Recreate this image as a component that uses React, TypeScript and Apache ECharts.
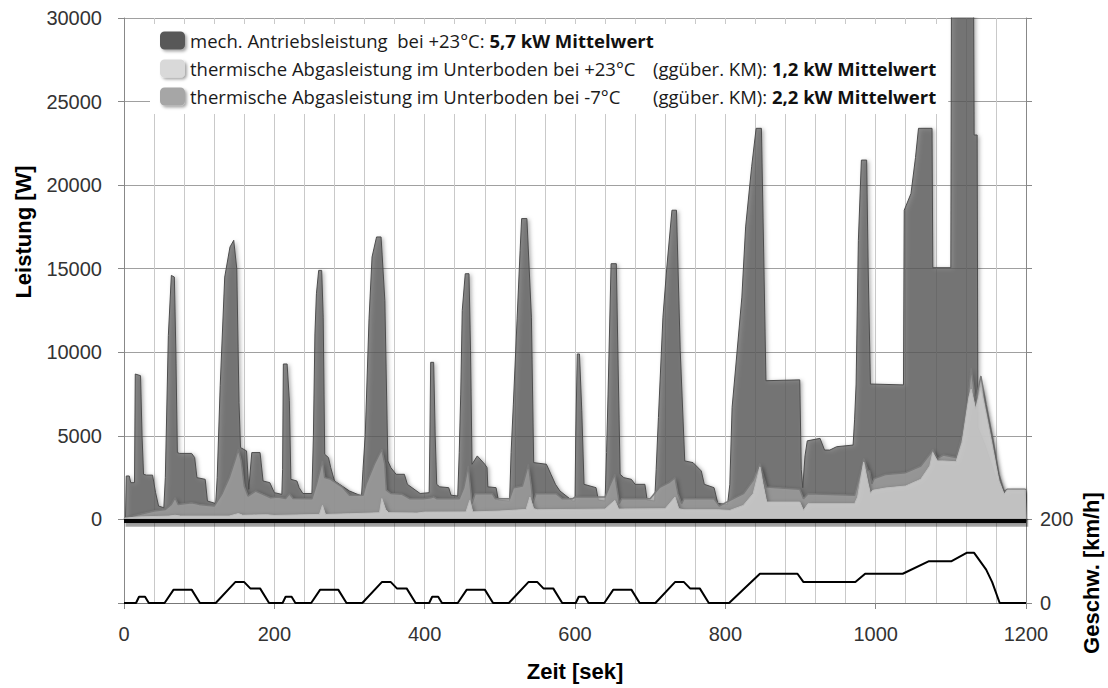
import React, { useEffect, useRef } from "react";
import * as echarts from "echarts";

// ---- data (time in s, power in W, speed in km/h) ----
const mechPower: number[][] = [
  [0, 0], [2, 0], [3, 2600], [7, 2600], [9, 2200], [14, 2200], [15, 8700], [22, 8600], [24, 5000], [26, 2700], [30, 2650], [38, 2650], [42, 1600], [46, 800], [53, 700],
  [55, 2500], [59, 11000], [63, 14600], [67, 14500], [69, 10000], [71, 4000], [74, 3950], [90, 3950], [94, 3700], [97, 2500], [108, 2400], [111, 1100], [122, 950],
  [124, 2500], [128, 8000], [134, 14500], [141, 16300], [146, 16700], [150, 15000], [153, 7000], [155, 4300], [163, 4100], [166, 1800], [170, 4000], [181, 4000], [185, 2300], [194, 2200],
  [200, 1600], [210, 1500], [211, 3000], [212, 9300], [217, 9300], [220, 7100], [222, 2400], [230, 2300], [233, 1900], [238, 1550], [250, 1550],
  [252, 5000], [254, 11100], [256, 13500], [259, 14900], [263, 14900], [265, 12100], [267, 3900], [272, 3700], [275, 3100], [280, 2300], [290, 2000], [300, 1700], [316, 1400],
  [318, 3000], [321, 5100], [326, 12000], [330, 15700], [336, 16900], [342, 16900], [347, 13100], [351, 3500], [355, 3100], [362, 2700], [373, 2700], [377, 2100], [394, 1550],
  [406, 1600], [407, 5000], [408, 9400], [412, 9400], [414, 5000], [416, 2100], [420, 1950], [432, 1900], [435, 1450], [444, 1400],
  [446, 4000], [448, 7500], [450, 12500], [454, 14700], [459, 14700], [461, 10100], [463, 3300], [470, 3800], [480, 3300], [483, 3100], [484, 1950], [495, 1900], [498, 1150], [513, 1100],
  [515, 4000], [518, 6900], [523, 12000], [527, 16100], [529, 18000], [536, 18000], [542, 12100], [545, 3400], [562, 3300], [568, 2700], [574, 2100], [580, 1700], [597, 1100],
  [600, 1100], [601, 5000], [603, 9900], [606, 9900], [609, 6500], [612, 2100], [620, 2000], [628, 1900], [631, 1150], [640, 1100],
  [642, 4000], [644, 7500], [648, 15300], [655, 15300], [657, 10100], [660, 2700], [665, 2500], [675, 2400], [680, 2100], [693, 2100], [696, 1150], [706, 1100],
  [708, 3000], [711, 6100], [717, 12100], [722, 15000], [729, 18500], [735, 18500], [740, 10100], [746, 3500], [757, 3400], [768, 2900], [772, 2100], [785, 1900], [790, 950], [803, 900],
  [806, 2100], [809, 6700], [813, 8700], [822, 13300], [827, 17500], [835, 21100], [841, 23400], [848, 23400], [851, 16000], [854, 8300], [899, 8350],
  [901, 3000], [903, 1900], [906, 3800], [909, 4700], [926, 4850], [932, 4150], [939, 4150], [948, 4350], [970, 4450],
  [972, 6000], [974, 8100], [977, 16700], [981, 21500], [988, 21500], [990, 15100], [993, 8100], [1037, 8050],
  [1038, 18500], [1047, 19500], [1053, 21650], [1057, 23400], [1075, 23400], [1076, 15060], [1100, 15060], [1101, 34000], [1130, 34000], [1131, 23000], [1135, 23000],
  [1136, 5500], [1145, 4500], [1160, 2500], [1168, 1700], [1199, 1700], [1200, 0],
];

const thermalMinus7: number[][] = [
  [0, 0], [2, 100], [20, 300], [40, 500], [55, 600], [63, 900], [68, 1300], [72, 900], [90, 1000], [100, 900], [120, 800],
  [130, 1500], [140, 2500], [148, 3600], [152, 4200], [156, 3500], [160, 2000], [165, 1400], [175, 1700], [185, 1500], [195, 1300],
  [205, 1340], [215, 1250], [220, 1540], [225, 1250], [250, 1240], [256, 2100], [264, 3500], [267, 2500], [275, 2400], [290, 1950], [300, 1450], [318, 1450],
  [322, 2100], [333, 3300], [343, 4200], [347, 3300], [349, 1750], [355, 1550], [370, 1500], [380, 1240], [398, 1240],
  [408, 1300], [412, 1350], [416, 1240], [446, 1240], [452, 1900], [458, 3200], [461, 1900], [463, 950], [467, 1540], [490, 1540], [494, 1240], [513, 1240],
  [518, 1900], [530, 2000], [538, 3300], [542, 1950], [544, 950], [548, 1540], [575, 1540], [583, 1240], [597, 1240],
  [600, 1340], [640, 1340], [646, 2000], [653, 2700], [657, 1540], [659, 950], [662, 1240], [700, 1240],
  [712, 1900], [725, 2200], [733, 2500], [737, 1540], [742, 950], [745, 1240], [785, 1240], [792, 800],
  [806, 1140], [824, 1540], [837, 2340], [846, 3340], [850, 2740], [855, 1940], [899, 1800], [904, 1240], [910, 1540], [972, 1440],
  [976, 2140], [984, 3640], [990, 2940], [992, 2900], [995, 2140], [998, 2440], [1013, 2690], [1040, 2800], [1060, 3200], [1072, 3900],
  [1076, 4190], [1082, 3650], [1090, 3850], [1107, 3700], [1115, 5000], [1122, 7000], [1127, 9050], [1133, 7080], [1140, 8580], [1147, 6850],
  [1156, 4770], [1164, 2690], [1171, 1650], [1175, 1800], [1199, 1800], [1200, 0],
];

const thermal23: number[][] = [
  [0, 0], [2, 80], [20, 150], [60, 200], [68, 250], [75, 200], [140, 200], [148, 300], [152, 350], [158, 250], [190, 280], [200, 240],
  [260, 300], [264, 840], [268, 300], [300, 340], [340, 400], [343, 1250], [348, 600], [352, 400], [390, 380], [400, 440],
  [455, 450], [460, 1140], [464, 450], [500, 500], [535, 600], [540, 1340], [545, 640], [550, 580], [600, 600], [640, 620],
  [653, 1140], [658, 620], [720, 640], [733, 1340], [738, 640], [745, 580], [790, 580],
  [806, 540], [824, 840], [837, 1540], [846, 3140], [850, 2140], [855, 1040], [899, 1040], [904, 540], [910, 940], [972, 940],
  [976, 1340], [984, 3440], [990, 2140], [993, 1540], [996, 1740], [1013, 1880], [1040, 2000], [1060, 2400], [1072, 3200],
  [1076, 4000], [1082, 3500], [1090, 3500], [1107, 3450], [1115, 4600], [1124, 7310], [1127, 7800], [1133, 6600], [1140, 7900], [1147, 6300],
  [1156, 4200], [1164, 2300], [1171, 1500], [1175, 1760], [1199, 1760], [1200, 0],
];

const speedKmh: number[][] = [
  [0, 0], [16, 0], [20, 15], [28, 15], [33, 0], [54, 0], [66, 32], [90, 32], [101, 0], [122, 0], [148, 50], [160, 50], [168, 35], [181, 35], [193, 0],
  [211, 0], [215, 15], [223, 15], [228, 0], [249, 0], [261, 32], [285, 32], [296, 0], [317, 0], [343, 50], [355, 50], [363, 35], [376, 35], [388, 0],
  [406, 0], [410, 15], [418, 15], [423, 0], [444, 0], [456, 32], [480, 32], [491, 0], [512, 0], [538, 50], [550, 50], [558, 35], [571, 35], [583, 0],
  [601, 0], [605, 15], [613, 15], [618, 0], [639, 0], [651, 32], [675, 32], [686, 0], [707, 0], [733, 50], [745, 50], [753, 35], [766, 35], [778, 0],
  [805, 0], [846, 70], [896, 70], [904, 50], [973, 50], [986, 70], [1036, 70], [1071, 100], [1101, 100], [1121, 120], [1131, 120], [1147, 80], [1155, 50], [1165, 0], [1200, 0],
];

// thick base band drawn just below the zero line (W)
const baseBand = { level: -90, shadeLevel: -200 };

const seriesNames = [
  "mech. Antriebsleistung bei +23°C",
  "thermische Abgasleistung im Unterboden bei +23°C",
  "thermische Abgasleistung im Unterboden bei -7°C",
];
const legendMain = [
  "mech. Antriebsleistung  bei +23°C: ",
  "thermische Abgasleistung im Unterboden bei +23°C",
  "thermische Abgasleistung im Unterboden bei -7°C",
];
const legendKM = ["", "(ggüber. KM): ", "(ggüber. KM): "];
const legendMean = ["5,7 kW Mittelwert", "1,2 kW Mittelwert", "2,2 kW Mittelwert"];

const powerTicks = { min: -5000, max: 30000, step: 5000 };
const speedTicks = { min: 0, max: 1400, step: 200, shown: [0, 200] };
const timeTicks = { min: 0, max: 1200, step: 200 };

const AXIS_FONT = '"Liberation Sans", Arial, sans-serif';
const LEGEND_FONT = '"Open Sans", Lato, sans-serif';
const LEGEND_SIZE = 18.5;

export default function App() {
  const ref = useRef<HTMLDivElement>(null);
  useEffect(() => {
    document.body.style.margin = "0";
    const chart = echarts.init(ref.current!, undefined, { renderer: "svg" });
    const shadow = { shadowBlur: 4, shadowColor: "rgba(0,0,0,0.5)", shadowOffsetX: 2, shadowOffsetY: 1 };
    chart.setOption({
      animation: false,
      backgroundColor: "#fff",
      grid: { left: 124, right: 82, top: 18, bottom: 85 },
      legend: {
        orient: "vertical",
        left: 150,
        top: 24,
        padding: [7, 12, 8, 10],
        backgroundColor: "#fff",
        itemWidth: 25,
        itemHeight: 18,
        itemGap: 9,
        icon: "roundRect",
        data: seriesNames,
        itemStyle: { shadowBlur: 3, shadowColor: "rgba(0,0,0,0.35)", shadowOffsetX: 2, shadowOffsetY: 2 },
        formatter: (name: string) => {
          const i = seriesNames.indexOf(name);
          if (i === 0) return `{n|${legendMain[0]}}{b|${legendMean[0]}}`;
          return `{a|${legendMain[i]}}{n|${legendKM[i]}}{b|${legendMean[i]}}`;
        },
        textStyle: {
          fontFamily: LEGEND_FONT,
          fontSize: LEGEND_SIZE,
          color: "#1a1a1a",
          rich: {
            n: { fontFamily: LEGEND_FONT, fontSize: LEGEND_SIZE, color: "#1a1a1a" },
            a: { fontFamily: LEGEND_FONT, fontSize: LEGEND_SIZE, color: "#1a1a1a", width: 463 },
            b: { fontFamily: LEGEND_FONT, fontSize: LEGEND_SIZE, color: "#111", fontWeight: "bold" },
          },
        },
      },
      xAxis: {
        type: "value",
        min: timeTicks.min,
        max: timeTicks.max,
        interval: timeTicks.step,
        name: "Zeit [sek]",
        nameLocation: "middle",
        nameGap: 57,
        nameTextStyle: { fontFamily: AXIS_FONT, fontWeight: "bold", fontSize: 22, color: "#000" },
        axisLine: { onZero: false, lineStyle: { color: "#777", width: 1 } },
        axisTick: { show: true, length: 6, lineStyle: { color: "#888" } },
        axisLabel: { fontFamily: AXIS_FONT, fontSize: 20, color: "#333", margin: 21, formatter: (v: number) => String(v) },
        splitLine: { show: true, lineStyle: { color: "#c9c9c9", width: 1 } },
        minorTick: { show: false, splitNumber: 5 },
        minorSplitLine: { show: true, lineStyle: { color: "#c9c9c9", width: 1 } },
      },
      yAxis: [
        {
          type: "value",
          min: powerTicks.min,
          max: powerTicks.max,
          interval: powerTicks.step,
          axisLine: { show: true, lineStyle: { color: "#888" } },
          axisTick: { show: true, length: 6, lineStyle: { color: "#888" } },
          axisLabel: {
            fontFamily: AXIS_FONT,
            fontSize: 20,
            color: "#333",
            margin: 22,
            formatter: (v: number) => (v < 0 ? "" : String(v)),
          },
          splitLine: { show: true, lineStyle: { color: "#a0a0a0", width: 1 } },
        },
        {
          type: "value",
          position: "right",
          min: speedTicks.min,
          max: speedTicks.max,
          interval: speedTicks.step,
          axisLine: { show: true, lineStyle: { color: "#888" } },
          axisTick: { show: true, length: 6, lineStyle: { color: "#888" } },
          axisLabel: {
            fontFamily: AXIS_FONT,
            fontSize: 20,
            color: "#333",
            margin: 14,
            formatter: (v: number) => (speedTicks.shown.includes(v) ? String(v) : ""),
          },
          splitLine: { show: false },
        },
      ],
      series: [
        {
          name: seriesNames[0],
          type: "line",
          yAxisIndex: 0,
          data: mechPower,
          symbol: "none",
          z: 2,
          color: "#595959",
          lineStyle: { color: "#4d4d4d", width: 1 },
          areaStyle: { color: "#595959", origin: "auto", ...shadow },
        },
        {
          name: seriesNames[2],
          type: "line",
          yAxisIndex: 0,
          data: thermalMinus7,
          symbol: "none",
          z: 3,
          color: "#a6a6a6",
          lineStyle: { color: "#7a7a7a", width: 1.5 },
          areaStyle: { color: "#a6a6a6", origin: "auto", ...shadow },
        },
        {
          name: seriesNames[1],
          type: "line",
          yAxisIndex: 0,
          data: thermal23,
          symbol: "none",
          z: 4,
          color: "#d9d9d9",
          lineStyle: { color: "#bdbdbd", width: 1 },
          areaStyle: { color: "#d9d9d9", origin: "auto", ...shadow },
        },
        {
          name: "Schatten",
          type: "line",
          yAxisIndex: 0,
          data: [[timeTicks.min + 2, baseBand.shadeLevel], [timeTicks.max + 3, baseBand.shadeLevel]],
          symbol: "none",
          z: 5,
          silent: true,
          clip: false,
          lineStyle: { color: "rgba(0,0,0,0.35)", width: 8 },
        },
        {
          name: "Nulllinie",
          type: "line",
          yAxisIndex: 0,
          data: [[timeTicks.min, baseBand.level], [timeTicks.max, baseBand.level]],
          symbol: "none",
          z: 5,
          silent: true,
          lineStyle: { color: "#050505", width: 4 },
        },
        {
          name: "Geschwindigkeit",
          type: "line",
          yAxisIndex: 1,
          data: speedKmh,
          symbol: "none",
          z: 6,
          lineStyle: { color: "#000", width: 2 },
        },
      ],
      graphic: [
        {
          type: "text",
          x: 23,
          y: 232,
          rotation: Math.PI / 2,
          style: { text: "Leistung [W]", font: `bold 22px ${AXIS_FONT}`, fill: "#000", align: "center", verticalAlign: "middle" },
        },
        {
          type: "text",
          x: 1091,
          y: 573,
          rotation: Math.PI / 2,
          style: { text: "Geschw. [km/h]", font: `bold 22px ${AXIS_FONT}`, fill: "#000", align: "center", verticalAlign: "middle" },
        },
      ],
    });
    return () => chart.dispose();
  }, []);
  return <div ref={ref} style={{ width: 1108, height: 688 }} />;
}
